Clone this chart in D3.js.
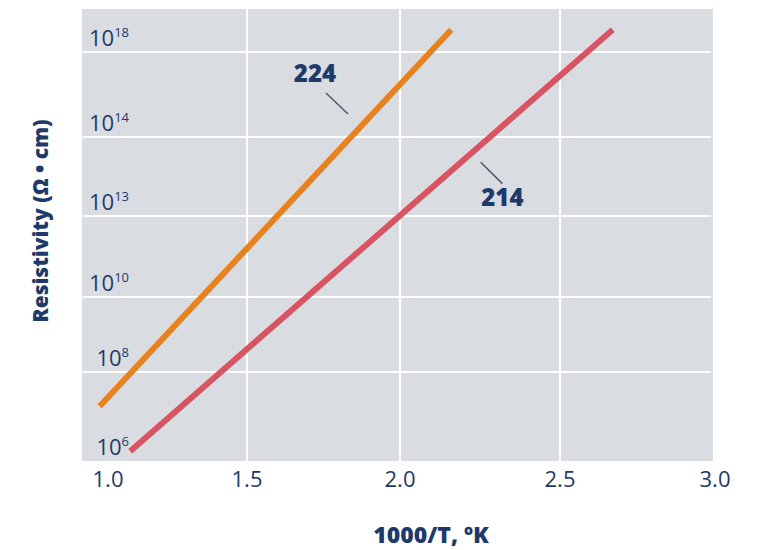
<!DOCTYPE html>
<html>
<head>
<meta charset="utf-8">
<script src="https://cdn.jsdelivr.net/npm/d3@7"></script>
<style>
  body { margin: 0; background: #fff; }
  text { font-family: "Open Sans", sans-serif; fill: #1e3a6b; }
</style>
</head>
<body>
<svg id="chart"></svg>
<script>
// Dimensions
const width = 758;
const height = 550;

// Data (exponent of resistivity vs 1000/T)
const xTicks = [1.0, 1.5, 2.0, 2.5, 3.0];
const yExponents = [6, 8, 10, 13, 14, 18];

const x224 = [0.97, 2.16];
const y224 = [7.23, 19.05];
const x214 = [1.08, 2.67];
const y214 = [6.22, 19.05];

// label positions and leader lines, in data units
const labelNames = ["224", "214"];
const labelX = [1.722, 2.32];
const labelY = [16.59, 13.13];
const leaderX = [[1.758, 1.83], [2.252, 2.32]];
const leaderY = [[16.07, 15.08], [13.68, 13.41]];

const svg = d3.select("#chart")
    .attr("width", width)
    .attr("height", height);

// the original chart's axes are not evenly spaced, so piecewise scales
const x = d3.scaleLinear()
    .domain(xTicks)
    .range([108, 247, 400, 560, 715]);

const y = d3.scaleLinear()
    .domain(yExponents)
    .range([461, 372, 297, 216, 137, 52]);

const plot = { left: 82, right: 713, top: 9, bottom: 461 };

svg.append("rect")
    .attr("x", plot.left)
    .attr("y", plot.top)
    .attr("width", plot.right - plot.left)
    .attr("height", plot.bottom - plot.top)
    .attr("fill", "#d9dce0");

// grid
svg.selectAll("line.vgrid")
    .data(xTicks.slice(1, -1))
    .join("line")
    .attr("class", "vgrid")
    .attr("x1", d => x(d))
    .attr("x2", d => x(d))
    .attr("y1", plot.top)
    .attr("y2", plot.bottom)
    .attr("stroke", "#fff")
    .attr("stroke-width", 2);

svg.selectAll("line.hgrid")
    .data(yExponents.slice(1))
    .join("line")
    .attr("class", "hgrid")
    .attr("x1", plot.left + 1)
    .attr("x2", plot.right - 2)
    .attr("y1", d => y(d))
    .attr("y2", d => y(d))
    .attr("stroke", "#fff")
    .attr("stroke-width", 2);

// y tick labels
const yLab = svg.selectAll("text.ytick")
    .data(yExponents)
    .join("text")
    .attr("class", "ytick")
    .attr("x", 129)
    .attr("y", d => y(d) - 6)
    .attr("text-anchor", "end")
    .style("font-size", "22px");

yLab.append("tspan").text("10");
yLab.append("tspan")
    .attr("dy", -9)
    .style("font-size", "13px")
    .text(d => d);

// x tick labels
svg.selectAll("text.xtick")
    .data(xTicks)
    .join("text")
    .attr("class", "xtick")
    .attr("x", d => x(d))
    .attr("y", 487)
    .attr("text-anchor", "middle")
    .style("font-size", "22px")
    .text(d => d3.format(".1f")(d));

// axis titles
svg.append("text")
    .attr("x", 431)
    .attr("y", 543)
    .attr("text-anchor", "middle")
    .style("font-size", "23px")
    .style("font-weight", 800)
    .text("1000/T, ºK");

svg.append("text")
    .attr("transform", "rotate(-90)")
    .attr("x", -221)
    .attr("y", 48)
    .attr("text-anchor", "middle")
    .style("font-size", "21px")
    .style("font-weight", 800)
    .text("Resistivity (Ω • cm)");

// lines
const line = d3.line()
    .x(d => x(d[0]))
    .y(d => y(d[1]));

svg.append("path")
    .datum(d3.zip(x224, y224))
    .attr("fill", "none")
    .attr("stroke", "#e8821f")
    .attr("stroke-width", 6)
    .attr("d", line);

svg.append("path")
    .datum(d3.zip(x214, y214))
    .attr("fill", "none")
    .attr("stroke", "#d95462")
    .attr("stroke-width", 6)
    .attr("d", line);

// annotations
svg.selectAll("line.leader")
    .data(labelNames.map((n, i) => i))
    .join("line")
    .attr("class", "leader")
    .attr("x1", i => x(leaderX[i][0]))
    .attr("x2", i => x(leaderX[i][1]))
    .attr("y1", i => y(leaderY[i][0]))
    .attr("y2", i => y(leaderY[i][1]))
    .attr("stroke", "#4d5b69")
    .attr("stroke-width", 1.5);

svg.selectAll("text.series")
    .data(labelNames)
    .join("text")
    .attr("class", "series")
    .attr("x", (d, i) => x(labelX[i]))
    .attr("y", (d, i) => y(labelY[i]))
    .attr("text-anchor", "middle")
    .style("font-size", "24px")
    .style("font-weight", 800)
    .text(d => d);
</script>
</body>
</html>
